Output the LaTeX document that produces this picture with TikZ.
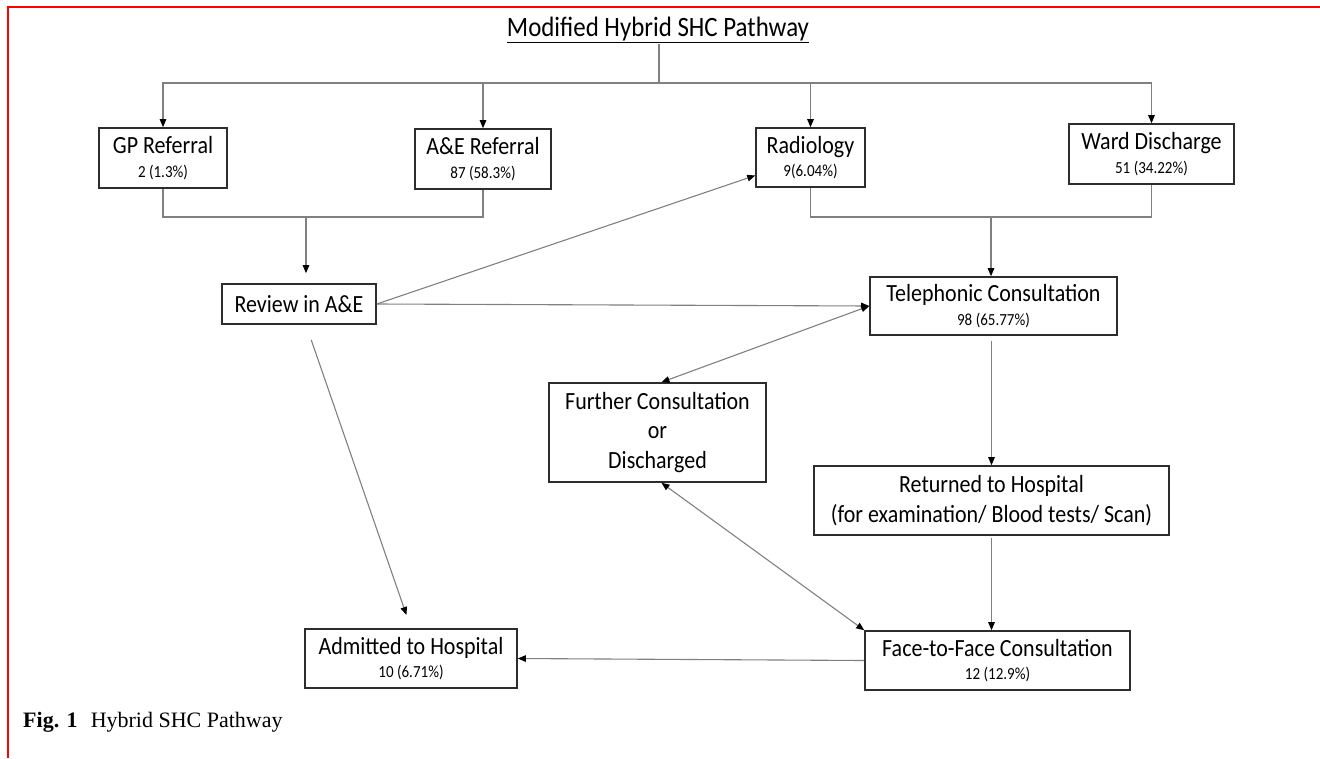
\documentclass[tikz,border=0pt]{standalone}
\usepackage{fontspec}
\setmainfont{Carlito}[FakeStretch=0.89]
\newfontfamily\capfont{Liberation Serif}
\usetikzlibrary{arrows.meta,calc}
\definecolor{linegray}{RGB}{128,128,128}
\definecolor{boxline}{RGB}{45,45,45}
\newcommand{\boxfont}{\fontsize{24.7}{29.5}\selectfont}
\newcommand{\numfont}{\fontsize{16.9}{19}\selectfont}
\tikzset{
  pbox/.style 2 args={draw=boxline, line width=1.6pt, fill=white,
    minimum width=#1, minimum height=#2, inner sep=0pt, align=center, font=\boxfont},
  link/.style={draw=linegray, line width=1.1pt},
  arr/.style={link, -{Triangle[length=8pt,width=6.5pt,color=black]}},
  arrboth/.style={link, {Triangle[length=8pt,width=6.5pt,color=black]}-{Triangle[length=8pt,width=6.5pt,color=black]}},
  figcap/.style={anchor=base west, inner sep=0pt, font=\capfont\fontsize{22}{26}\selectfont}
}

\begin{document}
\begin{tikzpicture}[x=1pt,y=-1pt]
  \useasboundingbox (0,0) rectangle (1320,758);
  \draw[red,line width=2pt] (8,758) -- (8,7) -- (1320,7);

  % title and top row
  \node[font=\fontsize{28}{32}\selectfont, inner sep=1pt] (title) at (658,30) {\underline{Modified Hybrid SHC Pathway}};
  \node[pbox={128pt}{60pt}] (gp) at (163,158) {GP Referral\\[-6pt]{\numfont 2 (1.3\%)}};
  \node[pbox={136pt}{60pt}] (ae) at (483,159) {A\&E Referral\\[-6pt]{\numfont 87 (58.3\%)}};
  \node[pbox={109pt}{59pt}] (rad) at (810.5,157.5) {Radiology\\[-6pt]{\numfont 9(6.04\%)}};
  \node[pbox={165pt}{60pt}] (ward) at (1151.5,154) {Ward Discharge\\[-6pt]{\numfont 51 (34.22\%)}};

  % middle
  \node[pbox={154pt}{40pt}] (rev) at (299,304) {Review in A\&E};
  \node[pbox={247pt}{58pt}] (tel) at (993.5,306) {Telephonic Consultation\\[-6pt]{\numfont 98 (65.77\%)}};
  \node[pbox={217pt}{99pt}] (fur) at (657.5,432.5) {Further Consultation\\or\\Discharged};
  \node[pbox={355pt}{69pt}] (ret) at (991.5,500.5) {Returned to Hospital\\(for examination/ Blood tests/ Scan)};

  % bottom
  \node[pbox={212pt}{59pt}] (adm) at (411,658.5) {Admitted to Hospital\\[-6pt]{\numfont 10 (6.71\%)}};
  \node[pbox={265pt}{59pt}] (ftf) at (997.5,660.5) {Face-to-Face Consultation\\[-6pt]{\numfont 12 (12.9\%)}};
  \node[figcap] (cap) at (23,727) {\textbf{Fig. 1}\hspace{0.6em}Hybrid SHC Pathway};

  \coordinate (bus) at (659,83);
  \coordinate (jn1) at (306,217);
  \coordinate (jn2) at (991,217);

  \draw[link] (bus |- title.south) -- (bus);
  \draw[arr] (bus) -| (gp);
  \draw[arr] (bus) -| (ae);
  \draw[arr] (bus) -| (rad);
  \draw[arr] (bus) -| (ward);

  \draw[link] (gp) |- (jn1) -| (ae);
  \draw[arr,shorten >=10pt] (jn1) -- (jn1 |- rev.north);
  \draw[link] (rad) |- (jn2) -| (ward);
  \draw[arr] (jn2) -- (jn2 |- tel.north);

  \draw[arr] (rev.east) -- ([yshift=-18pt]rad.west);
  \draw[arr] (rev.east) -- (tel.west);
  \draw[arrboth] (tel.west) -- ([xshift=4pt]fur.north);
  \draw[arr,shorten <=5pt] (tel.south -| ret.north) -- (ret.north);
  \draw[arr,shorten <=2pt] (ret.south) -- (ret.south |- ftf.north);
  \draw[arrboth] ([xshift=4pt]fur.south) -- (ftf.north west);
  \draw[arr] (ftf.west) -- (adm.east);
  \draw[arr,shorten <=16pt,shorten >=14pt] ([xshift=7pt]rev.south) -- (adm.north);
\end{tikzpicture}
\end{document}
